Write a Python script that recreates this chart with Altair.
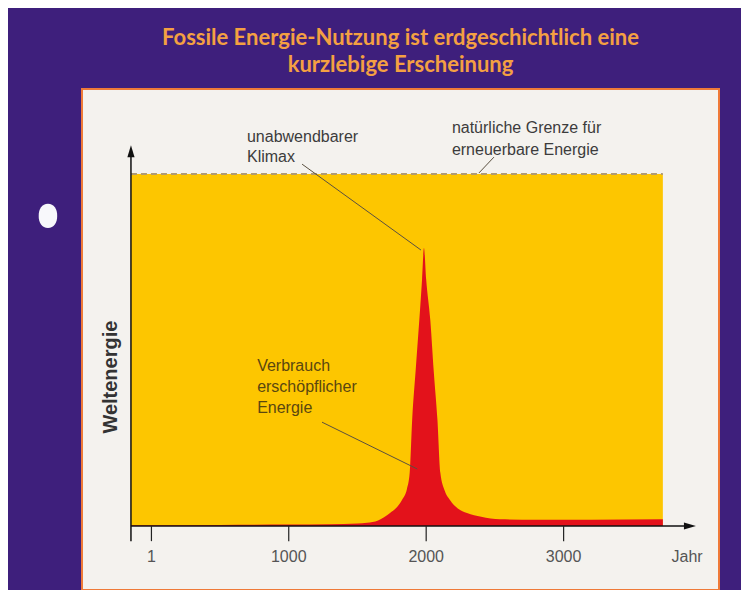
import altair as alt
import pandas as pd

# ---------------- data ----------------
title_lines = ["Fossile Energie-Nutzung ist erdgeschichtlich eine", "kurzlebige Erscheinung"]

years = [-148, 0, 500, 1000, 1300, 1500, 1570, 1650, 1737, 1790, 1824, 1860, 1880, 1898,
         1925, 1950, 1970, 1984, 2000, 2030, 2055, 2082, 2103, 2135, 2173, 2230, 2297,
         2400, 2537, 2800, 3200, 3722]
energy = [0.2, 0.2, 0.3, 0.4, 0.5, 0.7, 0.9, 1.6, 3.7, 5.5, 7.4, 10.5, 15.1, 30.1,
          45, 58.5, 70, 79, 70, 58.5, 44, 30.1, 15.1, 10, 7.4, 5, 3.7,
          2.6, 1.9, 1.8, 1.8, 1.9]

limit_value = 100          # natürliche Grenze
axis_start = -148
field_end = 3722
axis_end = 3919
axis_top = 106.5
tick_low = -4.3

tick_years = [1, 1000, 2000, 3000]
tick_labels = ["1", "1000", "2000", "3000"]
x_title = "Jahr"
y_title = "Weltenergie"

note_text = ["unabwendbarer", "Klimax", "natürliche Grenze für", "erneuerbare Energie",
             "Verbrauch", "erschöpflicher", "Energie"]
note_x = [696, 696, 2187, 2187, 770, 770, 770]
note_y = [110.5, 104.8, 113.1, 106.8, 45.5, 39.5, 33.5]
note_color = ["#3c3c3c", "#3c3c3c", "#3c3c3c", "#3c3c3c", "#5a4710", "#5a4710", "#5a4710"]

leader_x1 = [1097, 2493, 1242]
leader_y1 = [102.8, 104.8, 29.5]
leader_x2 = [1962, 2384, 1935]
leader_y2 = [78.4, 100.3, 16.2]

# ---------------- layout ----------------
XD = [-504.2, 4130.5]
YD = [-18.18, 124.15]
FONT = "Liberation Sans, Arial"

xs = alt.Scale(domain=XD, nice=False, zero=False)
ys = alt.Scale(domain=YD, nice=False, zero=False)


def X(f="x"):
    return alt.X(f"{f}:Q", scale=xs, axis=None)


def Y(f="y"):
    return alt.Y(f"{f}:Q", scale=ys, axis=None)


field_df = pd.DataFrame({"x": [axis_start], "x2": [field_end], "y": [0], "y2": [limit_value]})
field = alt.Chart(field_df).mark_rect(color="#fdc600").encode(
    x=X(), x2="x2:Q", y=Y(), y2="y2:Q")

limit_line = alt.Chart(field_df).mark_rule(color="#b09a72", strokeWidth=2, strokeDash=[6, 4]).encode(
    x=X(), x2="x2:Q", y=alt.Y("y2:Q", scale=ys, axis=None))

series_df = pd.DataFrame({"x": years, "y": energy})
area = alt.Chart(series_df).mark_area(color="#e3121b", interpolate="monotone").encode(
    x=X(), y=Y())

axes_df = pd.DataFrame({"x": [axis_start, axis_start], "x2": [axis_start, axis_end - 6],
                        "y": [tick_low, 0], "y2": [axis_top, 0]})
axes = alt.Chart(axes_df).mark_rule(color="#111111", strokeWidth=1.5).encode(
    x=X(), x2="x2:Q", y=Y(), y2="y2:Q")

heads_df = pd.DataFrame({"x": [axis_start, axis_end], "y": [axis_top, 0],
                         "s": ["M0,-1L0.6,1L-0.6,1Z", "M1,0L-1,-0.6L-1,0.6Z"]})
heads = alt.Chart(heads_df).mark_point(filled=True, color="#111111", opacity=1, size=144).encode(
    x=X(), y=Y(), shape=alt.Shape("s:N", scale=None))

ticks_df = pd.DataFrame({"x": tick_years, "y": [0] * 4, "y2": [tick_low] * 4})
ticks = alt.Chart(ticks_df).mark_rule(color="#222222", strokeWidth=1.2).encode(
    x=X(), y=Y(), y2="y2:Q")
tick_text = alt.Chart(pd.DataFrame({"x": tick_years + [3898], "y": [-8.8] * 5,
                                    "t": tick_labels + [x_title]})).mark_text(
    font=FONT, fontSize=16, color="#555555", baseline="middle").encode(
    x=X(), y=Y(), text="t:N")

ytitle = alt.Chart(pd.DataFrame({"x": [-293], "y": [42.3], "t": [y_title]})).mark_text(
    font=FONT, fontSize=20, fontWeight="bold", angle=270,
    color="#333333", baseline="middle").encode(x=X(), y=Y(), text="t:N")

notes_df = pd.DataFrame({"x": note_x, "y": note_y, "t": note_text, "c": note_color})
notes = alt.Chart(notes_df).mark_text(font=FONT, fontSize=16, align="left", baseline="middle").encode(
    x=X(), y=Y(), text="t:N", color=alt.Color("c:N", scale=None))

leaders_df = pd.DataFrame({"x": leader_x1, "y": leader_y1, "x2": leader_x2, "y2": leader_y2})
leaders = alt.Chart(leaders_df).mark_rule(color="#5a5040", strokeWidth=1).encode(
    x=X(), x2="x2:Q", y=Y(), y2="y2:Q")

hole_df = pd.DataFrame({"x": [-752], "y": [88.1]})
hole = alt.Chart(hole_df).mark_point(
    filled=True, color="#f8f8fb", opacity=1, size=580,
    shape="M0,-1C0.5,-1 0.77,-0.55 0.77,0C0.77,0.55 0.5,1 0,1C-0.5,1 -0.77,0.55 -0.77,0C-0.77,-0.55 -0.5,-1 0,-1Z"
).encode(x=X(), y=Y())

chart = alt.layer(field, area, limit_line, leaders, axes, heads, ticks, tick_text, ytitle, notes, hole).properties(
    width=637, height=501,
    padding={"left": 74, "top": 81, "right": 22, "bottom": 0},
    autosize=alt.AutoSizeParams(type="none"),
    background="#3e1f7c",
    title=alt.TitleParams(text=title_lines, anchor="middle", frame="group", fontSize=22,
                          font="Lato", fontWeight="bold", color="#f4a042", lineHeight=27, offset=12),
).configure_view(fill="#f4f2ee", stroke="#ef7a38", strokeWidth=2)

chart.save("out.html", embed_options={"renderer": "svg", "actions": False})
